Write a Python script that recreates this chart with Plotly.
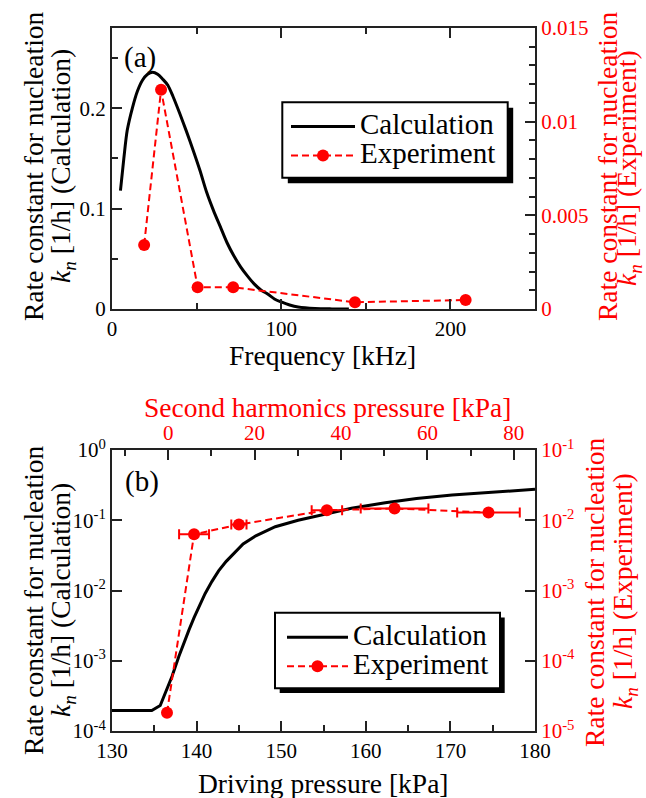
import plotly.graph_objects as go

# ---------------- Panel (a) data ----------------
freq_calc = [5, 7, 9, 12, 15, 18, 21, 24, 27, 30, 33, 36, 40, 44, 48, 52, 56, 60, 64, 68,
             72, 76, 80, 84, 88, 92, 96, 100, 105, 110, 120, 130, 140]
kn_calc_a = [0.118, 0.150, 0.178, 0.200, 0.217, 0.228, 0.234, 0.236, 0.234, 0.229, 0.223,
             0.212, 0.195, 0.177, 0.158, 0.138, 0.116, 0.098, 0.082, 0.066, 0.053, 0.042,
             0.033, 0.025, 0.019, 0.015, 0.010, 0.007, 0.004, 0.002, 0.0005, 0.0001, 0.0]

freq_exp = [19, 29, 50.6, 71.6, 143.6, 209]
kn_exp_a = [0.00342, 0.0117, 0.00116, 0.00116, 0.00036, 0.00048]

# ---------------- Panel (b) data ----------------
p_calc = [130, 134.7, 135.7, 136.4, 137.1, 137.9, 138.5, 139.1, 139.7, 140.3, 141.0, 141.8,
          142.6, 143.5, 144.5, 145.5, 147, 149.3, 152, 154.4, 156, 158.3, 162.3, 166, 170.2,
          175, 180]
kn_calc_b = [1.95e-4, 1.95e-4, 2.3e-4, 3.6e-4, 6.0e-4, 1.15e-3, 1.8e-3, 2.75e-3, 4.1e-3,
             5.9e-3, 9.0e-3, 1.34e-2, 1.9e-2, 2.6e-2, 3.5e-2, 4.6e-2, 6.0e-2, 8.1e-2, 0.100,
             0.115, 0.128, 0.148, 0.178, 0.204, 0.229, 0.253, 0.276]

p_exp = [136.5, 139.7, 145.0, 155.4, 163.4, 174.5]
p_exp_err = [0, 1.77, 0.9, 1.8, 4.0, 3.7]
kn_exp_b = [1.82e-5, 6.3e-3, 8.7e-3, 1.39e-2, 1.47e-2, 1.29e-2]

logticks_left = [1e-4, 1e-3, 1e-2, 1e-1, 1]
logtext_left = ["10<sup>-4</sup>", "10<sup>-3</sup>", "10<sup>-2</sup>", "10<sup>-1</sup>", "10<sup>0</sup>"]
logticks_right = [1e-5, 1e-4, 1e-3, 1e-2, 1e-1]
logtext_right = ["10<sup>-5</sup>", "10<sup>-4</sup>", "10<sup>-3</sup>", "10<sup>-2</sup>", "10<sup>-1</sup>"]

FONT = "Liberation Serif, Times New Roman, serif"
RED = "#ff0000"
TICK = 21
TITLE = 27.5
LEG = 29

def leg_name(s):
    return '<span style="font-size:%dpx">%s</span>' % (LEG, s)

fig = go.Figure()

fig.add_trace(go.Scatter(x=freq_calc, y=kn_calc_a, mode="lines", name=leg_name("Calculation"),
                         line=dict(color="black", width=3, shape="spline", smoothing=0.8),
                         xaxis="x", yaxis="y", legend="legend"))
fig.add_trace(go.Scatter(x=freq_exp, y=kn_exp_a, mode="lines+markers", name=leg_name("Experiment"),
                         line=dict(color=RED, width=2, dash="7px,4px"),
                         marker=dict(color=RED, size=12), xaxis="x", yaxis="y2",
                         legend="legend"))

fig.add_trace(go.Scatter(x=p_calc, y=kn_calc_b, mode="lines", name=leg_name("Calculation"),
                         line=dict(color="black", width=3), xaxis="x2", yaxis="y3",
                         legend="legend2"))
fig.add_trace(go.Scatter(x=p_exp, y=kn_exp_b, mode="lines+markers", name=leg_name("Experiment"),
                         line=dict(color=RED, width=2, dash="7px,4px"),
                         marker=dict(color=RED, size=12),
                         error_x=dict(type="data", array=p_exp_err, color=RED, thickness=2, width=5),
                         xaxis="x2", yaxis="y4", legend="legend2"))
# empty trace so that the top (second-harmonic) axis is drawn
fig.add_trace(go.Scatter(x=[], y=[], xaxis="x3", yaxis="y3", showlegend=False,
                         hoverinfo="skip"))

axcommon = dict(showgrid=False, zeroline=False, showline=True, linecolor="#222", linewidth=2,
                ticks="inside", tickcolor="#222", tickwidth=1.5, ticklen=10,
                tickfont=dict(family=FONT, size=TICK, color="black"))


def px_x(px):
    return (px - 112) / 423.0


def px_y(py):
    return (731 - py) / 703.0


fig.update_layout(
    width=646, height=798,
    margin=dict(l=112, r=111, t=28, b=67),
    paper_bgcolor="white", plot_bgcolor="white",
    font=dict(family=FONT, color="black"),
    showlegend=True,
    xaxis=dict(axcommon, domain=[0, 1], anchor="y", range=[0, 250], dtick=100, tick0=0,
               mirror="ticks",
               minor=dict(dtick=50, ticks="inside", ticklen=6, tickcolor="#222")),
    yaxis=dict(axcommon, domain=[0.6003, 1], anchor="x", range=[0, 0.28], dtick=0.1, tick0=0,
               mirror=True,
               minor=dict(dtick=0.05, ticks="inside", ticklen=6, tickcolor="#222")),
    yaxis2=dict(axcommon, overlaying="y", side="right", anchor="x", range=[0, 0.015],
                dtick=0.005, tick0=0, tickfont=dict(family=FONT, size=TICK, color=RED),
                minor=dict(dtick=0.001, ticks="inside", ticklen=6, tickcolor="#222")),
    xaxis2=dict(axcommon, domain=[0, 1], anchor="y3", range=[130, 180], dtick=10, tick0=130,
                mirror=True,
                minor=dict(dtick=5, ticks="inside", ticklen=6, tickcolor="#222")),
    xaxis3=dict(axcommon, overlaying="x2", side="top", anchor="y3", range=[-13.0, 84.9],
                dtick=20, tick0=0, tickfont=dict(family=FONT, size=TICK, color=RED),
                minor=dict(dtick=10, ticks="inside", ticklen=6, tickcolor="#222")),
    yaxis3=dict(axcommon, domain=[0, 0.3997], anchor="x2", type="log", range=[-4, 0],
                tickmode="array", tickvals=logticks_left, ticktext=logtext_left, mirror=True),
    yaxis4=dict(axcommon, overlaying="y3", side="right", anchor="x2", type="log", range=[-5, -1],
                tickmode="array", tickvals=logticks_right, ticktext=logtext_right,
                tickfont=dict(family=FONT, size=TICK, color=RED)),
    legend=dict(x=px_x(286), y=px_y(107), xanchor="left", yanchor="top",
                bgcolor="rgba(0,0,0,0)", borderwidth=0, itemwidth=64,
                font=dict(family=FONT, size=20, color="black"), tracegroupgap=0),
    legend2=dict(x=px_x(282), y=px_y(617.7), xanchor="left", yanchor="top",
                 bgcolor="rgba(0,0,0,0)", borderwidth=0, itemwidth=61,
                 font=dict(family=FONT, size=20, color="black"), tracegroupgap=0),
)

ann = []
def add_text(text, px, py, size=TITLE, color="black", angle=0):
    ann.append(dict(text=text, x=px_x(px), y=px_y(py), xref="paper", yref="paper",
                    showarrow=False, xanchor="center", yanchor="middle", textangle=angle,
                    font=dict(family=FONT, size=size, color=color)))

add_text("(a)", 140, 57, size=29)
add_text("(b)", 142, 481, size=29)
add_text("Frequency [kHz]", 322, 355)
add_text("Driving pressure [kPa]", 323, 783)
add_text("Second harmonics pressure [kPa]", 327, 407, color=RED)
add_text("Rate constant for nucleation", 33, 166, angle=-90)
add_text("<i>k<sub>n</sub></i> [1/h] (Calculation)", 62, 166, angle=-90)
add_text("Rate constant for nucleation", 607, 166, color=RED, angle=-90)
add_text("<i>k<sub>n</sub></i> [1/h] (Experiment)", 628, 168, color=RED, angle=-90)
add_text("Rate constant for nucleation", 33, 600, angle=-90)
add_text("<i>k<sub>n</sub></i> [1/h] (Calculation)", 62, 600, angle=-90)
add_text("Rate constant for nucleation", 594, 592, color=RED, angle=-90)
add_text("<i>k<sub>n</sub></i> [1/h] (Experiment)", 624, 591, color=RED, angle=-90)
fig.update_layout(annotations=ann)

# legend frames with drop shadows
shapes = []
for (x0, y0, x1, y1, d) in [(282.3, 102.3, 507.7, 177.7, 5.5), (275, 612.7, 500, 688.3, 4.7)]:
    shapes.append(dict(type="rect", xref="paper", yref="paper",
                       x0=px_x(x0 + d), x1=px_x(x1 + d), y0=px_y(y1 + d), y1=px_y(y0 + d),
                       fillcolor="black", line=dict(width=0), layer="above"))
    shapes.append(dict(type="rect", xref="paper", yref="paper",
                       x0=px_x(x0), x1=px_x(x1), y0=px_y(y1), y1=px_y(y0),
                       fillcolor="white", line=dict(color="black", width=2), layer="above"))
fig.update_layout(shapes=shapes)

fig.write_html("out.html", config={"displayModeBar": False},
               post_script="document.body.style.margin='0px';")
